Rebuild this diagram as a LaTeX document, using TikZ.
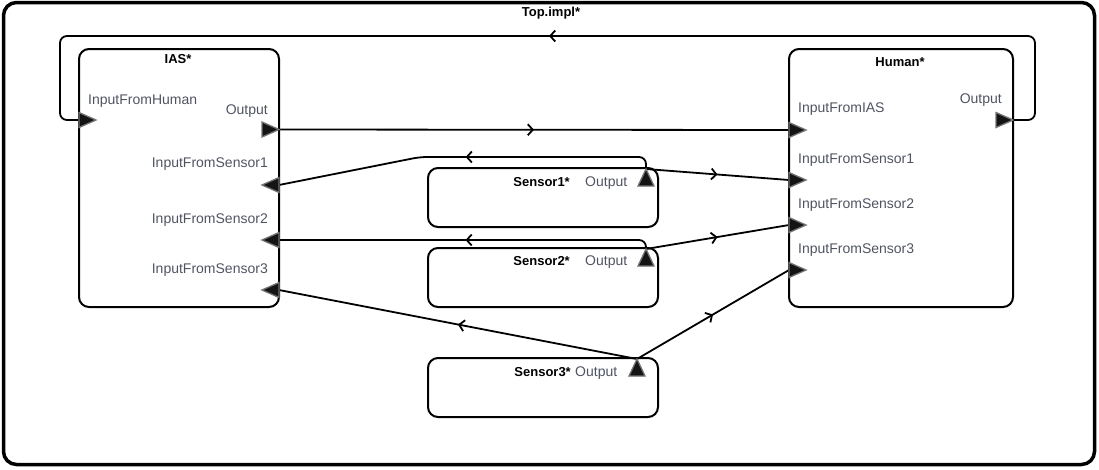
\documentclass[tikz,border=0pt]{standalone}
\usepackage{fontspec}
\setmainfont{Liberation Sans}
\usetikzlibrary{arrows.meta,decorations.markings}
\definecolor{portgray}{RGB}{80,84,98}
\begin{document}
\begin{tikzpicture}[x=1pt,y=-1pt,
  frame/.style={draw, line width=3.5pt, rounded corners=13pt, inner sep=0pt},
  comp/.style={draw, line width=2pt, rounded corners=10pt, inner sep=0pt},
  title/.style={font=\fontsize{13}{13}\selectfont\bfseries, inner sep=0pt},
  portlbl/.style={font=\fontsize{14}{14}\selectfont, text=portgray, inner sep=0pt},
  wire/.style={line width=1.8pt, rounded corners=7pt, postaction={decorate},
    decoration={markings, mark=at position 0.5 with
      {\arrow{Straight Barb[length=5pt,width=11pt,line width=1.8pt]}}}},
  tri/.style={fill=black!92, draw=black!55, line width=1.3pt, line join=miter}
]
\useasboundingbox (0,0) rectangle (1099,469);

% enclosing implementation
\node[frame, minimum width=1091pt, minimum height=462pt] (top) at (549,233.5) {};
\node[title] (toplbl) at (551,13) {Top.impl*};

% components
\node[comp, minimum width=200pt, minimum height=258pt] (ias) at (179,178) {};
\node[comp, minimum width=224pt, minimum height=258pt] (human) at (901,178) {};
\node[comp, minimum width=230pt, minimum height=59pt] (sensor1) at (543,197.5) {};
\node[comp, minimum width=230pt, minimum height=59pt] (sensor2) at (543,277.5) {};
\node[comp, minimum width=230pt, minimum height=59pt] (sensor3) at (543,387.5) {};

\node[title] (iaslbl) at (178,59) {IAS*};
\node[title] (humanlbl) at (900,62) {Human*};
\node[title, anchor=base east] (s1lbl) at (570,186.5) {Sensor1*};
\node[title, anchor=base east] (s2lbl) at (570,265.5) {Sensor2*};
\node[title, anchor=base east] (s3lbl) at (571,376.5) {Sensor3*};

% port labels
\node[portlbl, anchor=base west] (lIasH) at (88,104) {InputFromHuman};
\node[portlbl, anchor=base east] (lIasO) at (268,114) {Output};
\node[portlbl, anchor=base east] (lIasS1) at (268,167) {InputFromSensor1};
\node[portlbl, anchor=base east] (lIasS2) at (268,223) {InputFromSensor2};
\node[portlbl, anchor=base east] (lIasS3) at (268,273) {InputFromSensor3};
\node[portlbl, anchor=base west] (lHumI) at (798,112) {InputFromIAS};
\node[portlbl, anchor=base east] (lHumO) at (1002,103) {Output};
\node[portlbl, anchor=base west] (lHumS1) at (798,163) {InputFromSensor1};
\node[portlbl, anchor=base west] (lHumS2) at (798,208) {InputFromSensor2};
\node[portlbl, anchor=base west] (lHumS3) at (798,253) {InputFromSensor3};
\node[portlbl, anchor=base west] (lS1O) at (585,186.5) {Output};
\node[portlbl, anchor=base west] (lS2O) at (585,265.5) {Output};
\node[portlbl, anchor=base west] (lS3O) at (575,376.5) {Output};

% port points on the component borders
\coordinate (iasH) at (79,120);
\coordinate (iasO) at (279,129.5);
\coordinate (iasS1) at (279,185);
\coordinate (iasS2) at (279,240);
\coordinate (iasS3) at (279,290);
\coordinate (humI) at (789,130);
\coordinate (humO) at (1013,120);
\coordinate (humS1) at (789,180);
\coordinate (humS2) at (789,225);
\coordinate (humS3) at (789,270);
\coordinate (s1O) at (646,169);
\coordinate (s2O) at (646,249);
\coordinate (s3O) at (637,359);
\coordinate (loopR) at (1035,36);
\coordinate (loopL) at (60,120);
\coordinate (s1bend) at (420,157);

% connections
\draw[wire] (humO) -| (loopR) -| (loopL) -- (iasH);
\draw[wire] (iasO) -- (humI);
\draw[wire] (s1O) |- (s1bend) -- (iasS1);
\draw[wire] (s1O) -- (humS1);
\draw[wire] (s2O) |- (iasS2);
\draw[wire] (s2O) -- (humS2);
\draw[wire] (s3O) -- (iasS3);
\draw[wire] (s3O) -- (humS3);

% port triangles
\draw[tri] (iasH) ++(0,-7.5) -- ++(17,7.5) -- ++(-17,7.5) -- cycle;
\draw[tri] (iasO) -- ++(-17,-7.5) -- ++(0,15) -- cycle;
\draw[tri] (iasS1) ++(0,-7.5) -- ++(-17,7.5) -- ++(17,7.5) -- cycle;
\draw[tri] (iasS2) ++(0,-7.5) -- ++(-17,7.5) -- ++(17,7.5) -- cycle;
\draw[tri] (iasS3) ++(0,-7.5) -- ++(-17,7.5) -- ++(17,7.5) -- cycle;
\draw[tri] (humI) ++(0,-7.5) -- ++(17,7.5) -- ++(-17,7.5) -- cycle;
\draw[tri] (humO) -- ++(-17,-7.5) -- ++(0,15) -- cycle;
\draw[tri] (humS1) ++(0,-7.5) -- ++(17,7.5) -- ++(-17,7.5) -- cycle;
\draw[tri] (humS2) ++(0,-7.5) -- ++(17,7.5) -- ++(-17,7.5) -- cycle;
\draw[tri] (humS3) ++(0,-7.5) -- ++(17,7.5) -- ++(-17,7.5) -- cycle;
\draw[tri] (s1O) -- ++(-8,17) -- ++(16,0) -- cycle;
\draw[tri] (s2O) -- ++(-8,17) -- ++(16,0) -- cycle;
\draw[tri] (s3O) -- ++(-8,17) -- ++(16,0) -- cycle;
\end{tikzpicture}
\end{document}
